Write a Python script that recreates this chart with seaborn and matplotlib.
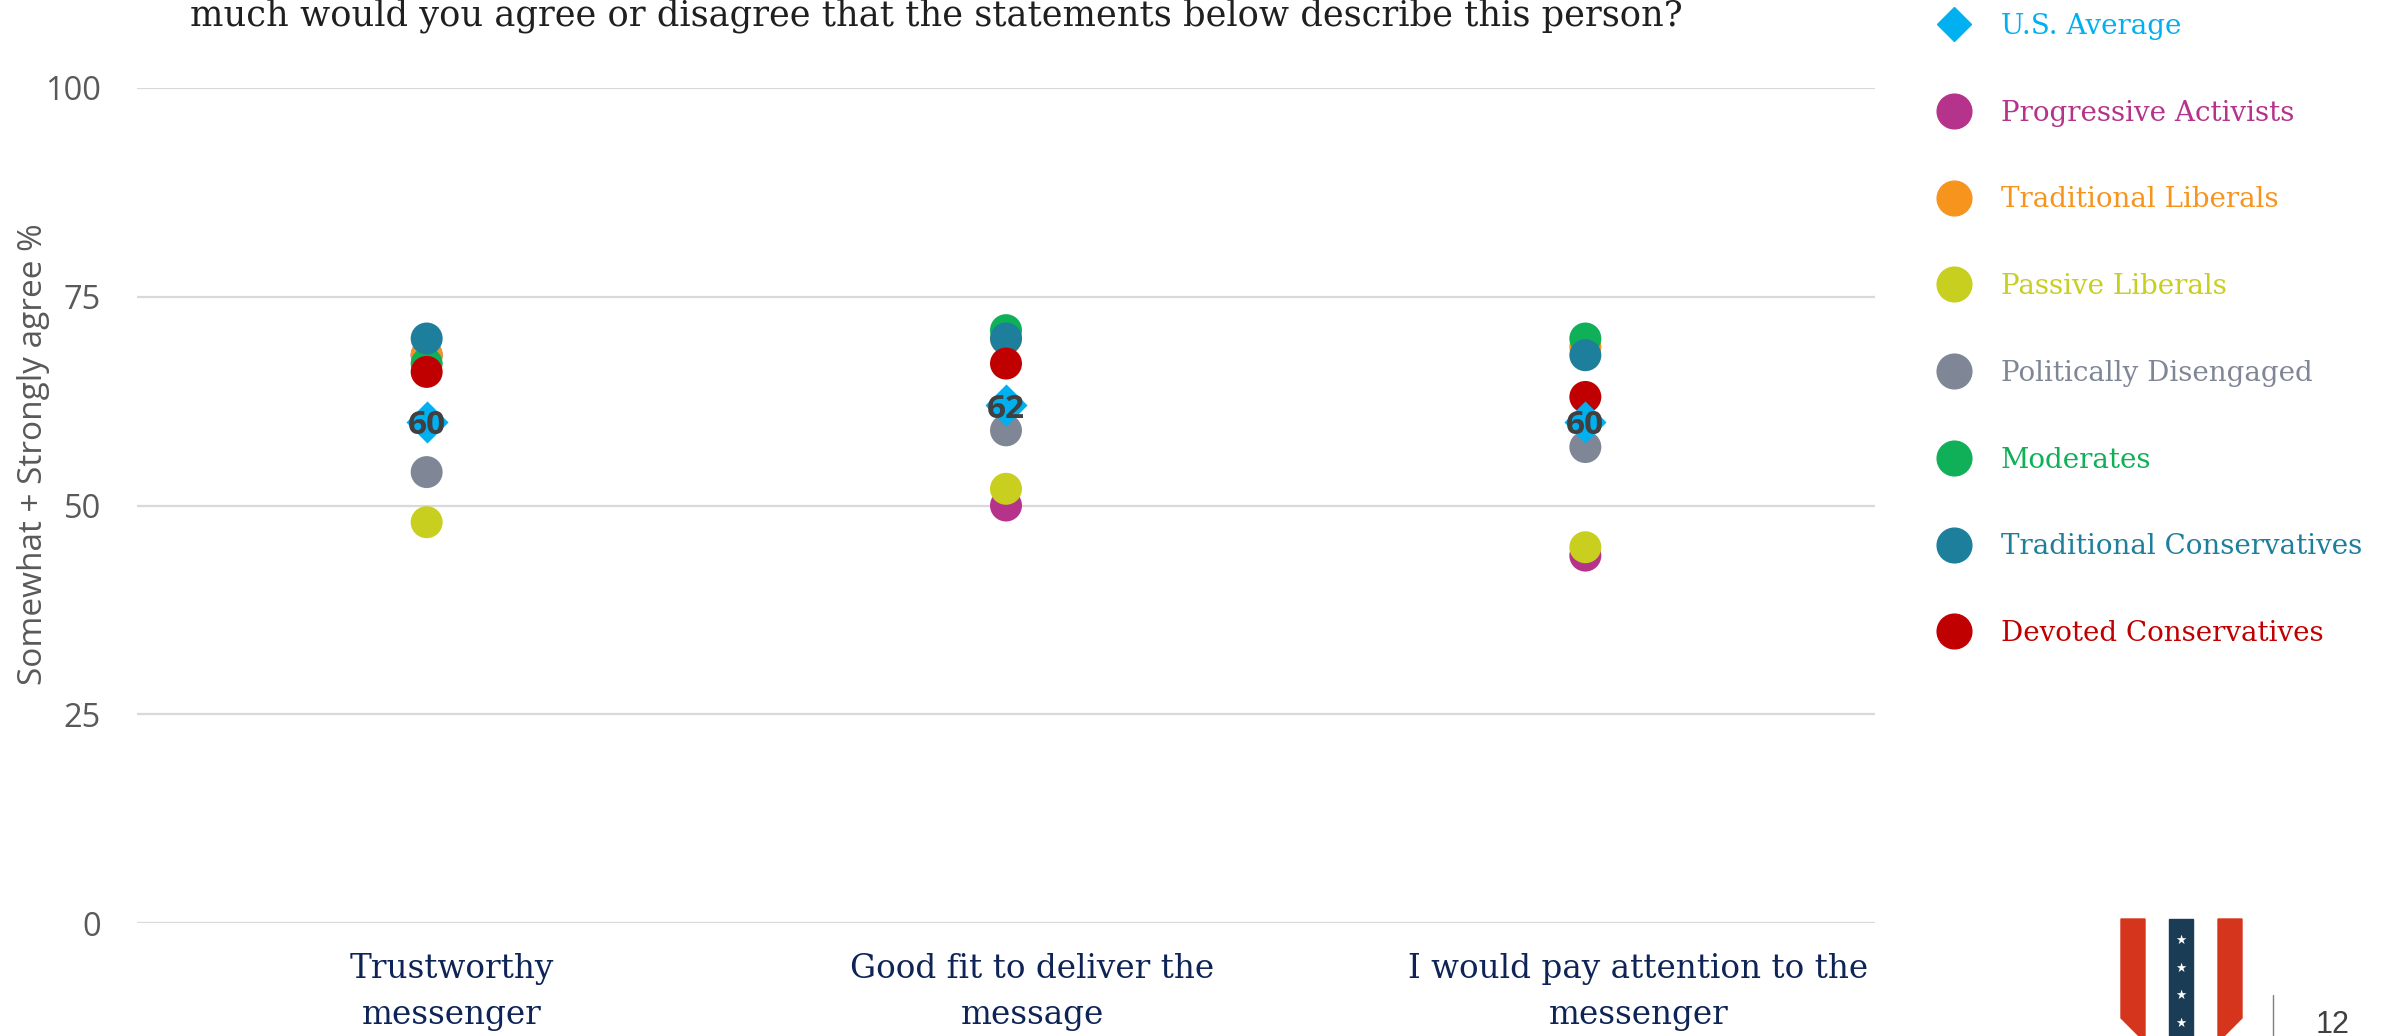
import pandas as pd
import matplotlib.pyplot as plt
import seaborn as sns
from matplotlib.lines import Line2D
from matplotlib.patches import Polygon, Rectangle

# Values (Somewhat + Strongly agree %)
statements = ["Trustworthy\nmessenger",
              "Good fit to deliver the\nmessage",
              "I would pay attention to the\nmessenger"]
us_average = [60, 62, 60]
progressive_activists = [68, 50, 44]
traditional_liberals = [68, 70, 69]
passive_liberals = [48, 52, 45]
politically_disengaged = [54, 59, 57]
moderates = [67, 71, 70]
traditional_conservatives = [70, 70, 68]
devoted_conservatives = [66, 67, 63]

segments = ["Progressive Activists", "Traditional Liberals", "Passive Liberals",
            "Politically Disengaged", "Moderates", "Traditional Conservatives",
            "Devoted Conservatives"]
segment_values = [progressive_activists, traditional_liberals, passive_liberals,
                  politically_disengaged, moderates, traditional_conservatives,
                  devoted_conservatives]
segment_colors = ["#B5338A", "#F7941D", "#C8CF1E", "#7F8797",
                  "#0FB057", "#1D7F9C", "#C00000"]
avg_color = "#00B0F0"

# long format table, one row per segment/statement
rows = []
for seg, vals in zip(segments, segment_values):
    for st, v in zip(statements, vals):
        rows.append({"statement": st, "segment": seg, "value": v})
df = pd.DataFrame(rows)

sns.set_theme(style="white")
plt.rcParams["font.family"] = ["DejaVu Sans"]

W, H = 2381, 1036
fig = plt.figure(figsize=(W / 100, H / 100), dpi=100)
ax = fig.add_axes([137 / W, 1 - 923 / H, (1875 - 137) / W, (923 - 88) / H])

sns.scatterplot(data=df, x="statement", y="value", hue="segment",
                hue_order=segments, palette=segment_colors, s=530,
                linewidth=0, legend=False, ax=ax, zorder=3)
sns.scatterplot(x=statements, y=us_average, marker="D", color=avg_color,
                s=460, linewidth=0, ax=ax, zorder=4)
for i, v in enumerate(us_average):
    ax.text(i, v, str(v), ha="center", va="center_baseline", fontsize=24,
            fontweight="bold", color="#404040", family="Open Sans", zorder=5)

ax.set_xlim(-0.5, 2.5)
ax.set_ylim(0, 100)
ax.set_yticks([0, 25, 50, 75, 100])
ax.yaxis.grid(True, color="#D9D9D9", linewidth=1.6)
ax.xaxis.grid(False)
for sp in ax.spines.values():
    sp.set_visible(False)
ax.tick_params(axis="both", length=0)
ax.tick_params(axis="y", pad=26, labelsize=23.5, labelcolor="#595959")
for lab in ax.get_yticklabels():
    lab.set_family("Open Sans")

# statement labels sit in their own text boxes on the slide, a bit right of the dots
ax.set_xticks(range(len(statements)))
ax.set_xticklabels([])
label_shift_px = [25, 26, 53]
px_per_cat = (1875 - 137) / 3
for i, (st, shift) in enumerate(zip(statements, label_shift_px)):
    ax.text(i + shift / px_per_cat, -30 / 835, st, transform=ax.get_xaxis_transform(),
            ha="center", va="top", family="DejaVu Serif", fontsize=23.5,
            color="#0E2456", linespacing=1.55)
ax.set_xlabel("")
ax.set_ylabel("Somewhat + Strongly agree %", fontsize=24, color="#595959",
              family="Open Sans")
ax.yaxis.set_label_coords(-0.050, 0.562)

fig.text(190 / W, 1 - 16 / H,
         "much would you agree or disagree that the statements below describe this person?",
         fontsize=25.4, family="DejaVu Serif", color="#1F1F1F", va="center", ha="left")

# legend
handles = [Line2D([], [], marker="D", linestyle="", color=avg_color, markersize=17)]
handles += [Line2D([], [], marker="o", linestyle="", color=c, markersize=25)
            for c in segment_colors]
labels = ["U.S. Average"] + segments
leg = fig.legend(handles, labels, loc="upper left", bbox_to_anchor=(1901 / W, 1 + 12 / H),
                 frameon=False, labelspacing=2.15, handletextpad=0.7,
                 prop={"family": "DejaVu Serif", "size": 20})
for txt, c in zip(leg.get_texts(), [avg_color] + segment_colors):
    txt.set_color(c)

# logo and page number
def fx(x):
    return x / W

def fy(y):
    return 1 - y / H

red = "#D4351C"
navy = "#1B3C55"
fig.add_artist(Polygon([(fx(2121), fy(919)), (fx(2145), fy(919)), (fx(2145), fy(1036)),
                        (fx(2139), fy(1036)), (fx(2121), fy(1018))],
                       closed=True, color=red, transform=fig.transFigure))
fig.add_artist(Polygon([(fx(2218), fy(919)), (fx(2242), fy(919)), (fx(2242), fy(1018)),
                        (fx(2224), fy(1036)), (fx(2218), fy(1036))],
                       closed=True, color=red, transform=fig.transFigure))
fig.add_artist(Rectangle((fx(2169), fy(1036)), (2193 - 2169) / W, (1036 - 919) / H,
                         color=navy, transform=fig.transFigure))
for sy in [940, 968, 995, 1023]:
    fig.text(fx(2181), fy(sy), "\u2605", color="white", fontsize=9,
             ha="center", va="center", family="DejaVu Sans")
fig.add_artist(Line2D([fx(2273), fx(2273)], [fy(995), fy(1036)], color="#7F7F7F",
                      linewidth=1, transform=fig.transFigure))
fig.text(fx(2316), fy(1010), "12", fontsize=22, color="#404040",
         family="Liberation Sans", ha="left", va="top")

fig.savefig("out.png", dpi=100)
